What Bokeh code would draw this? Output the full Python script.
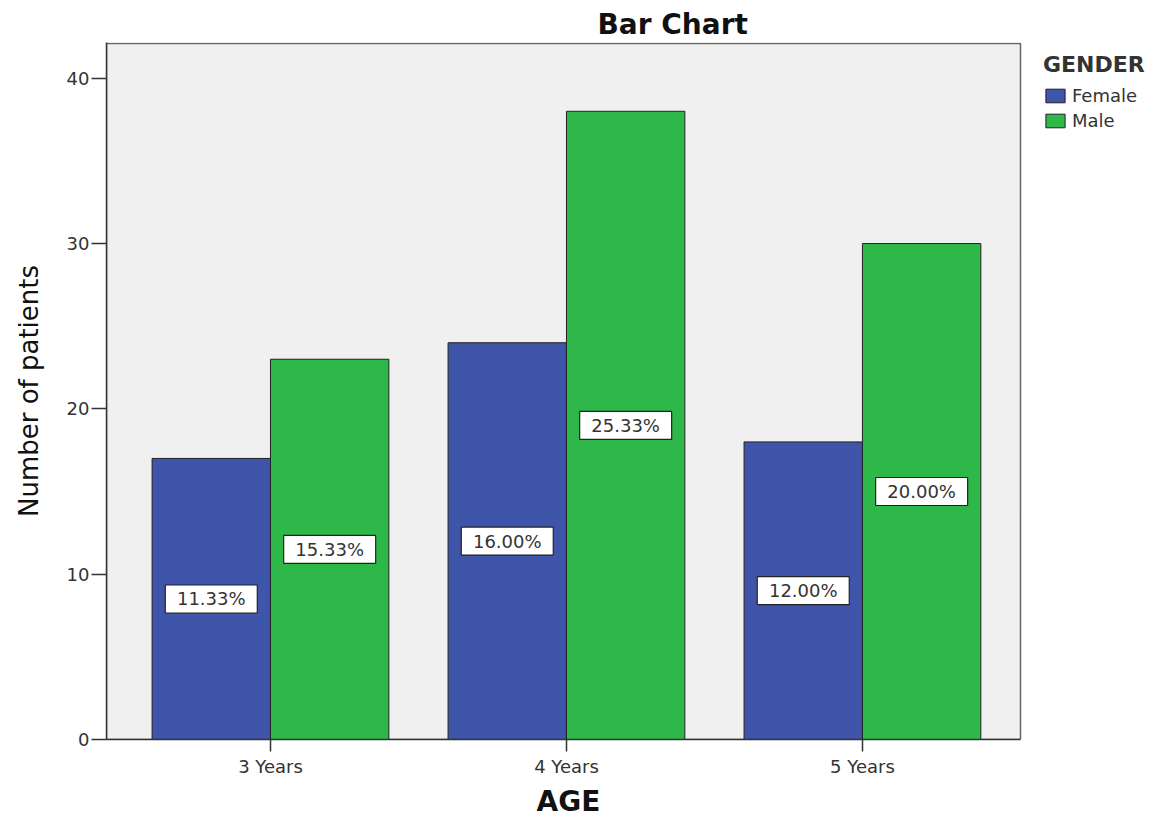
from bokeh.plotting import figure
from bokeh.models import Range1d, FixedTicker, Legend, LegendItem, ColumnDataSource, Title
from bokeh.core.properties import value
from bokeh.embed import file_html
from bokeh.resources import INLINE

# ---- data ----
categories = ["3 Years", "4 Years", "5 Years"]
female = [17, 24, 18]
male = [23, 38, 30]
female_pct = ["11.33%", "16.00%", "12.00%"]
male_pct = ["15.33%", "25.33%", "20.00%"]
y_ticks = [0, 10, 20, 30, 40]

FONT = "DejaVu Sans"
BLUE = "#3e55a9"
GREEN = "#2eb84a"

xs = [1, 2, 3]
fx = [x - 0.2 for x in xs]
mx = [x + 0.2 for x in xs]

# plot-area extent (data units) and the wider frame that also holds the legend
X_LO, X_HI = 0.446, 3.534
Y_TOP = 42.1
AREA_PX, FRAME_PX = 914, 1068
X_FRAME_HI = X_LO + (X_HI - X_LO) * FRAME_PX / AREA_PX

src_f = ColumnDataSource(dict(x=fx, top=female, mid=[v / 2 for v in female], lab=female_pct))
src_m = ColumnDataSource(dict(x=mx, top=male, mid=[v / 2 for v in male], lab=male_pct))

p = figure(width=1174, height=820, output_backend="svg", toolbar_location=None,
           x_range=Range1d(X_LO, X_FRAME_HI), y_range=Range1d(0, Y_TOP + 0.06),
           min_border_left=106, min_border_right=0, min_border_top=42,
           min_border_bottom=79)

p.background_fill_color = "white"
p.border_fill_color = "white"
p.outline_line_color = None
p.xgrid.visible = False
p.ygrid.visible = False

# grey plot area
p.quad(left=[X_LO], right=[X_HI], bottom=[0], top=[Y_TOP],
       fill_color="#f0f0f0", line_color="#666666", line_width=1.5)

# title
p.title.text = "Bar Chart"
p.title.align = "left"
p.title.offset = 491
p.title.standoff = 4
p.title.text_font = FONT
p.title.text_font_size = "28px"
p.title.text_font_style = "bold"
p.title.text_color = "#111111"

# bars
rf = p.vbar(x="x", top="top", width=0.4, bottom=0, source=src_f,
            fill_color=BLUE, line_color="#222222", line_width=1)
rm = p.vbar(x="x", top="top", width=0.4, bottom=0, source=src_m,
            fill_color=GREEN, line_color="#222222", line_width=1)

# percentage labels
for s in (src_f, src_m):
    p.rect(x="x", y="mid", width=92, height=28, width_units="screen", height_units="screen",
           source=s, fill_color="white", line_color="#222222", line_width=1.2)
    p.text(x="x", y="mid", text="lab", source=s, text_align="center", text_baseline="middle",
           text_font=value(FONT), text_font_size="18px", text_color="#333333")

# axes
p.xaxis.ticker = FixedTicker(ticks=xs)
p.xaxis.major_label_overrides = {x: c for x, c in zip(xs, categories)}
p.xaxis.bounds = (X_LO, X_HI)
p.yaxis.ticker = FixedTicker(ticks=y_ticks)

for ax in (p.xaxis[0], p.yaxis[0]):
    ax.axis_line_color = "#333333"
    ax.axis_line_width = 1.5
    ax.major_tick_line_color = "#333333"
    ax.major_tick_line_width = 1.5
    ax.major_tick_in = 0
    ax.minor_tick_line_color = None
    ax.major_label_text_font = FONT
    ax.major_label_text_font_size = "18px"
    ax.major_label_text_color = "#333333"
    ax.axis_label_text_font = FONT
    ax.axis_label_text_color = "#111111"

p.yaxis.major_tick_out = 15
p.yaxis.major_label_standoff = 2
p.xaxis.major_tick_out = 12
p.xaxis.major_label_standoff = 4

# x axis title placed under the grey plot area (not the wider frame)
p.add_layout(Title(text="AGE", align="left", offset=430, standoff=6,
                   text_font=FONT, text_font_size="28px", text_font_style="bold",
                   text_color="#111111"), "below")

p.yaxis.axis_label = "Number of patients"
p.yaxis.axis_label_text_font_size = "26px"
p.yaxis.axis_label_text_font_style = "normal"
p.yaxis.axis_label_standoff = 20

# legend (inside the wide frame, right of the grey area)
legend = Legend(items=[LegendItem(label="Female", renderers=[rf]),
                       LegendItem(label="Male", renderers=[rm])],
                title="GENDER", location=(937, 608), orientation="vertical",
                padding=0, margin=0, spacing=4,
                glyph_width=24, glyph_height=17, label_height=17,
                label_text_font=FONT, label_text_font_size="18px", label_text_color="#333333",
                title_text_font=FONT, title_text_font_size="22px", title_text_font_style="bold",
                title_text_color="#333333", title_standoff=8,
                border_line_alpha=0, background_fill_alpha=0)
p.add_layout(legend)

open("out.html", "w").write(file_html(p, INLINE))
